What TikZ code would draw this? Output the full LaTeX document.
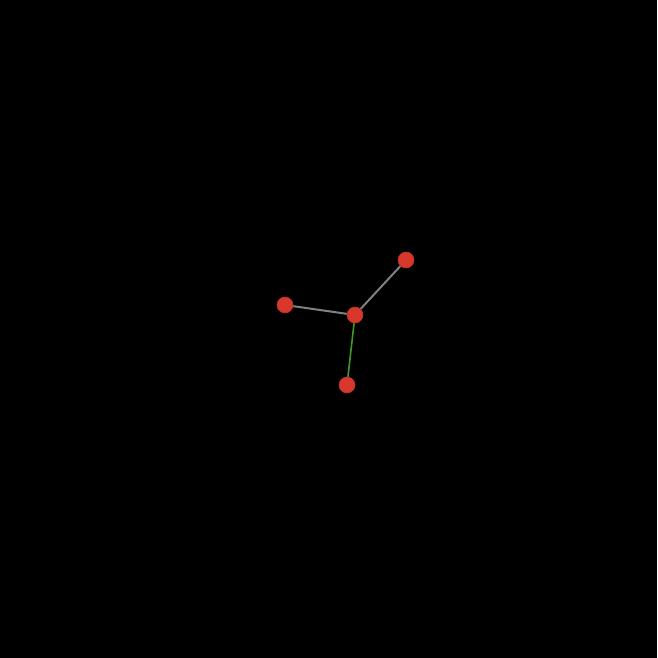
\documentclass[tikz,border=0pt]{standalone}
\usepackage{tikz}
\usetikzlibrary{positioning}
\definecolor{atom}{HTML}{D8372B}
\definecolor{bond}{HTML}{808080}
\definecolor{gbond}{HTML}{3F9A25}

\begin{document}
\begin{tikzpicture}[x=1pt,y=-1pt,
  atomdot/.style={circle,fill=atom,draw=atom!85!black,line width=0.6pt,minimum size=16pt,inner sep=0pt},
  bondline/.style={draw=bond,line width=2pt},
  greenbond/.style={draw=gbond,line width=1.6pt}]
\fill[black] (0,0) rectangle (657,658);
\useasboundingbox (0,0) rectangle (657,658);
% atoms
\node[atomdot] (hub) at (355,315) {};
\node[atomdot] (top) at (406,260) {};
\node[atomdot] (left) at (285,305) {};
\node[atomdot] (bottom) at (347,385) {};
% bonds
\draw[bondline] (hub) -- (top);
\draw[bondline] (hub) -- (left);
\draw[greenbond] (hub) -- (bottom);
\end{tikzpicture}
\end{document}
